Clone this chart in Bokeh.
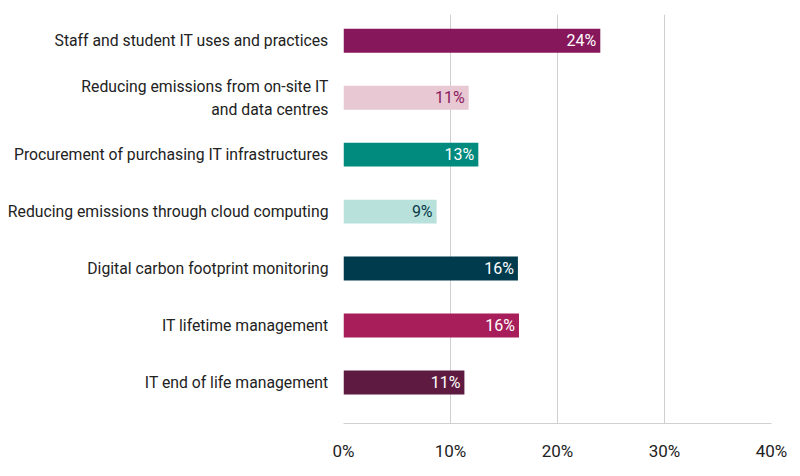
from bokeh.plotting import figure
from bokeh.models import ColumnDataSource, Range1d, FixedTicker
from bokeh.core.properties import value
from bokeh.embed import file_html
from bokeh.resources import INLINE

categories = [
    "Staff and student IT uses and practices",
    "Reducing emissions from on-site IT\nand data centres",
    "Procurement of purchasing IT infrastructures",
    "Reducing emissions through cloud computing",
    "Digital carbon footprint monitoring",
    "IT lifetime management",
    "IT end of life management",
]
values = [24.0, 11.7, 12.6, 8.7, 16.3, 16.4, 11.3]
labels = ["24%", "11%", "13%", "9%", "16%", "16%", "11%"]
ticks = [0, 10, 20, 30, 40]
tick_labels = ["0%", "10%", "20%", "30%", "40%"]
bar_colors = ["#87175B", "#E8C8D2", "#008B7E", "#B8E1DB", "#003B4D", "#A81E5A", "#5E1A40"]
label_colors = ["white", "#8B1A5E", "white", "#0A3A4A", "white", "white", "white"]

pos = list(range(len(categories)))
src = ColumnDataSource(dict(y=pos, v=values, lab=labels, fc=bar_colors, lc=label_colors))

p = figure(width=800, height=476, output_backend="svg", toolbar_location=None,
           x_range=Range1d(0, 40), y_range=Range1d(6.72, -0.46),
           min_border_left=343, min_border_right=29, min_border_top=14, min_border_bottom=53)
p.outline_line_color = None
p.hbar(y="y", left=0, right="v", height=0.42, fill_color="fc", line_color=None, source=src)
p.text(x="v", y="y", text="lab", text_color="lc", source=src, text_align="right",
       text_baseline="middle", x_offset=-4, text_font=value("Roboto"), text_font_size="16px")

p.xaxis.ticker = FixedTicker(ticks=ticks)
p.xaxis.major_label_overrides = dict(zip(ticks, tick_labels))
p.xaxis.axis_line_color = "#D0D0D0"
p.xaxis.major_tick_line_color = None
p.xaxis.minor_tick_line_color = None
p.xaxis.major_label_text_font = "Roboto"
p.xaxis.major_label_text_font_size = "17px"
p.xaxis.major_label_text_color = "#222222"
p.xaxis.major_label_standoff = 11

p.yaxis.ticker = FixedTicker(ticks=pos)
p.yaxis.major_label_overrides = {i: c for i, c in enumerate(categories)}
p.yaxis.axis_line_color = None
p.yaxis.major_tick_line_color = None
p.yaxis.minor_tick_line_color = None
p.yaxis.major_label_text_font = "Roboto"
p.yaxis.major_label_text_font_size = "15.75px"
p.yaxis.major_label_text_color = "#222222"
p.yaxis.major_label_standoff = 9

p.xgrid.grid_line_color = "#CFCFCF"
p.ygrid.grid_line_color = None

open("out.html", "w").write(file_html(p, INLINE))
